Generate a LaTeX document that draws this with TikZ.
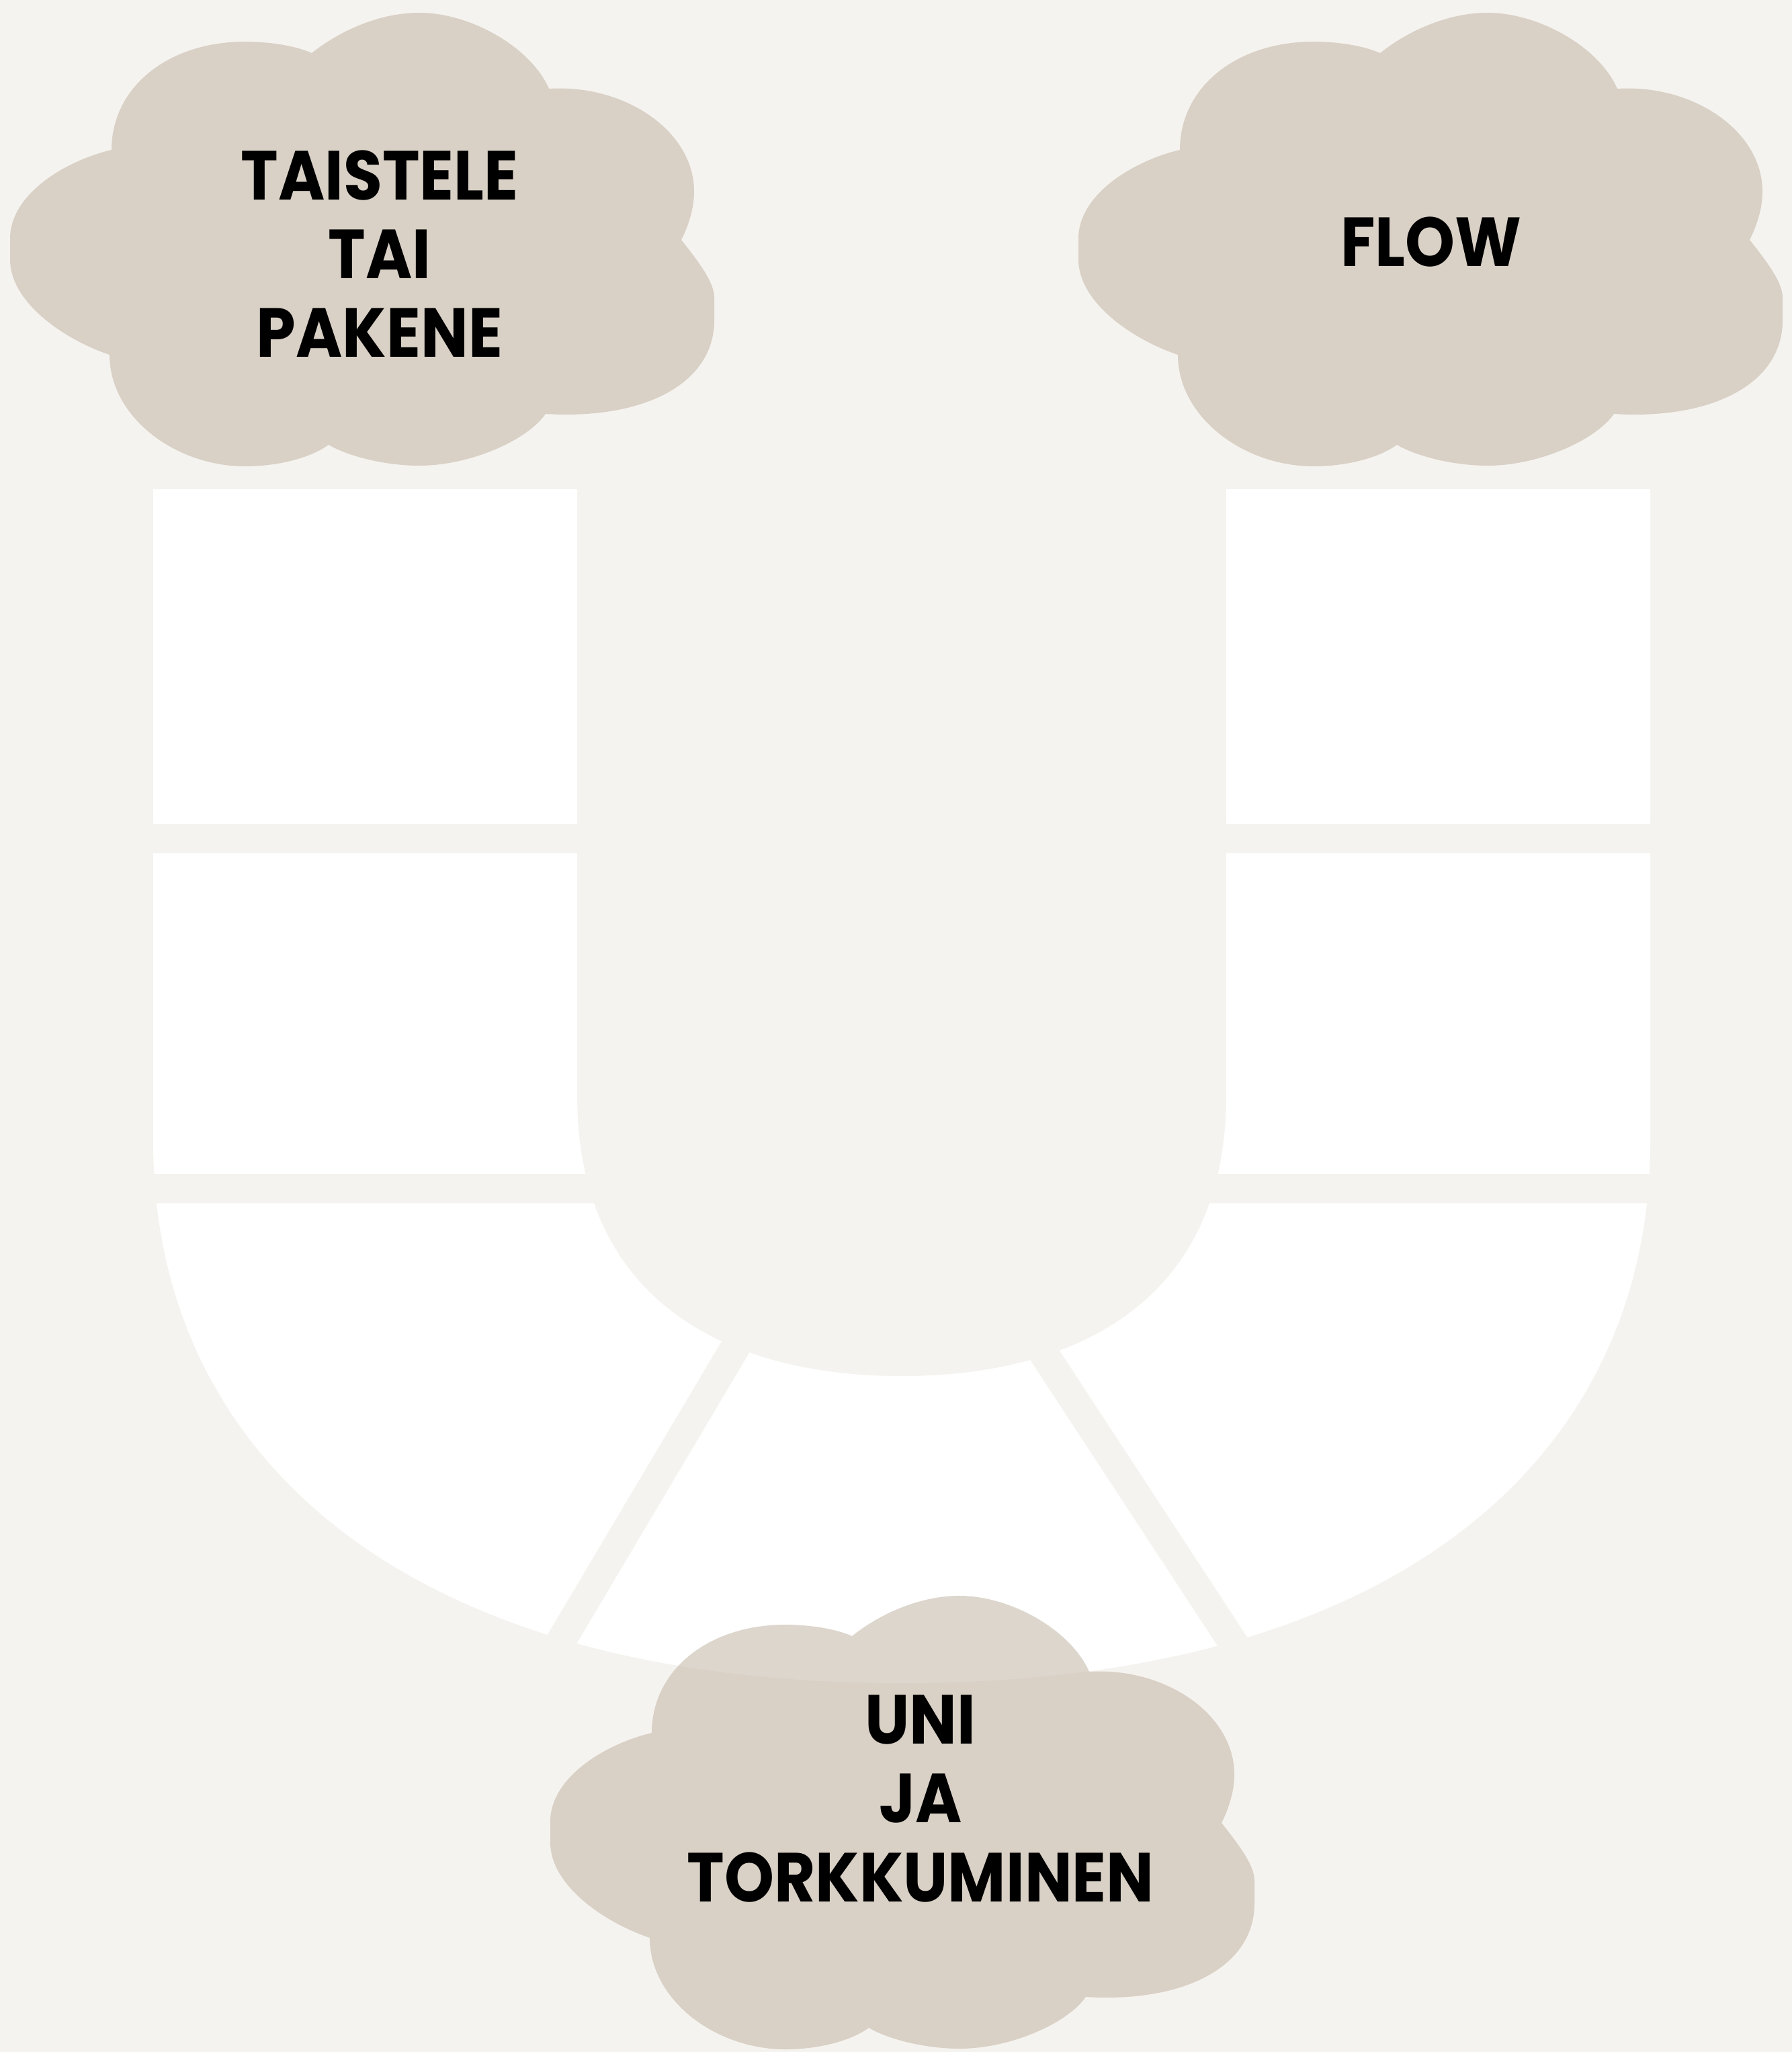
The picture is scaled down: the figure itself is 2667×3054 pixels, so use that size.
\documentclass[tikz,border=0pt]{standalone}
\usepackage{fontspec}
\newfontfamily\cloudfont{Poppins}[FakeStretch=0.91]
\definecolor{paper}{RGB}{245, 243, 239}
\definecolor{sand}{RGB}{194, 181, 165}
\begin{document}
\begin{tikzpicture}[x=0.01cm, y=-0.01cm,
        lbl/.style={font=\cloudfont\bfseries\fontsize{29.4}{33.3}\selectfont, align=center, inner sep=0pt},
        gap/.style={draw=paper, line width=0.44cm},
        cloud/.pic={\fill[sand, fill opacity=0.55] (166,223) .. controls (166,130) and (250,62) .. (365,62)
            .. controls (400,62) and (440,68) .. (464,79) .. controls (500,50) and (560,19) .. (624,19)
            .. controls (700,19) and (790,70) .. (817,132) .. controls (930,125) and (1033,195) .. (1033,285)
            .. controls (1033,310) and (1025,335) .. (1014,357) .. controls (1040,390) and (1063,420) .. (1063,443)
            -- (1063,477) .. controls (1063,570) and (960,625) .. (812,616) .. controls (785,655) and (700,693) .. (624,693)
            .. controls (575,693) and (520,680) .. (489,662) .. controls (460,683) and (410,694) .. (365,694)
            .. controls (260,694) and (163,620) .. (163,528) .. controls (95,505) and (15,450) .. (15,386)
            -- (15,355) .. controls (15,290) and (95,240) .. (166,223) -- cycle;}]
    \useasboundingbox[fill=paper] (0,0) rectangle (2667,3054);
    % white U track
    \fill[white] (228,728) -- (859,728) -- (859,1630) .. controls (859,1950) and (1100,2048) .. (1342,2048)
        .. controls (1584,2048) and (1825,1950) .. (1825,1630) -- (1825,728) -- (2456,728) -- (2456,1700)
        .. controls (2456,2150) and (2104,2505) .. (1342,2505) .. controls (580,2505) and (228,2150) .. (228,1700) -- cycle;
    % cuts between the fields
    \draw[gap] (200,1248) -- (2480,1248);
    \draw[gap] (200,1769) -- (2480,1769);
    \draw[gap] (1146,1918) -- (784,2528);
    \draw[gap] (1500,1933) -- (1891,2530);
    % clouds
    \pic at (0,0) {cloud};
    \pic at (1590,0) {cloud};
    \pic at (804,2356) {cloud};
    \node[lbl] (taistele) at (565,378) {TAISTELE\\TAI\\PAKENE};
    \node[lbl] (flow) at (2130,360) {FLOW};
    \node[lbl] (uni) at (1370,2677) {UNI\\JA\\TORKKUMINEN};
\end{tikzpicture}
\end{document}
